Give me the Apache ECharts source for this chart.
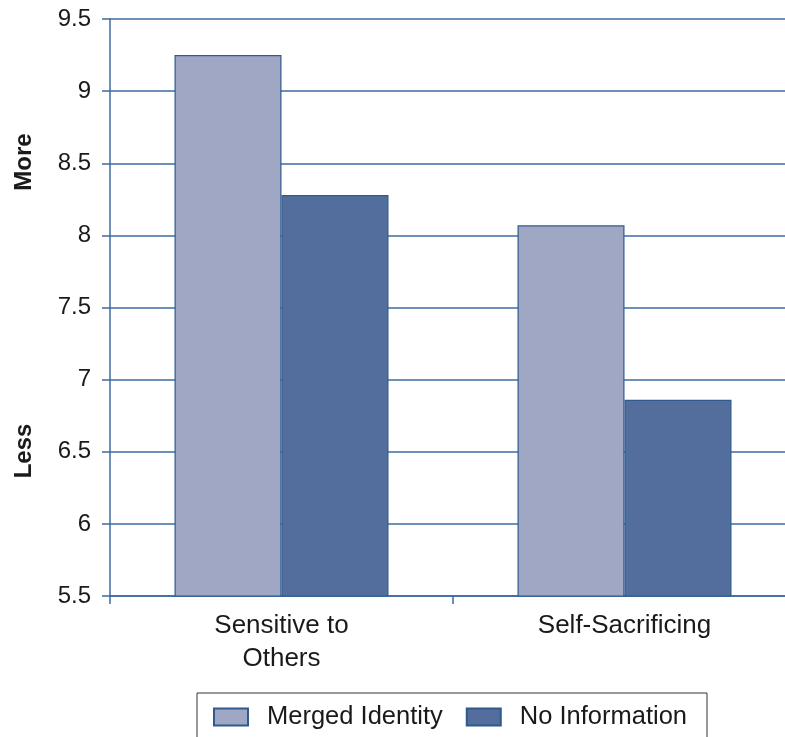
<!DOCTYPE html>
<html>
<head>
<meta charset="utf-8">
<script src="https://cdn.jsdelivr.net/npm/echarts@6/dist/echarts.min.js"></script>
<style>
html,body{margin:0;padding:0;background:#fff;}
#chart{width:785px;height:737px;}
</style>
</head>
<body>
<div id="chart"></div>
<script>
const categories = ['Sensitive to\nOthers', 'Self-Sacrificing'];
const seriesNames = ['Merged Identity', 'No Information'];
const mergedIdentity = [9.25, 8.07];
const noInformation = [8.28, 6.86];
const yTicks = { min: 5.5, max: 9.5, interval: 0.5 };

const FONT = '"Liberation Sans", Arial, Helvetica, sans-serif';
const lineColor = '#3e6a9f';
const chart = echarts.init(document.getElementById('chart'), null, {renderer: 'canvas'});
chart.setOption({
  animation: false,
  backgroundColor: '#fff',
  textStyle: { fontFamily: FONT },
  grid: { left: 110, top: 19, bottom: 141, width: 686, containLabel: false, outerBoundsMode: 'none' },
  legend: {
    left: 197, top: 693,
    icon: 'rect',
    itemWidth: 34, itemHeight: 17, itemGap: 23,
    padding: [11, 20, 20, 16],
    borderColor: '#333', borderWidth: 1,
    textStyle: { fontSize: 25.5, color: '#1a1a1a', fontFamily: FONT, padding: [0, 0, 0, 14] },
    data: seriesNames
  },
  xAxis: {
    type: 'category',
    data: categories,
    axisLine: { show: true, lineStyle: { color: lineColor, width: 1.5 } },
    axisTick: { show: true, length: 8, lineStyle: { color: lineColor, width: 1.5 } },
    axisLabel: { fontSize: 26, color: '#1a1a1a', fontFamily: FONT, margin: 13, lineHeight: 33 }
  },
  yAxis: {
    type: 'value',
    min: yTicks.min, max: yTicks.max, interval: yTicks.interval,
    axisLine: { show: true, lineStyle: { color: lineColor, width: 1.5 } },
    axisTick: { show: true, length: 8, lineStyle: { color: lineColor, width: 1.5 } },
    splitLine: { show: true, lineStyle: { color: lineColor, width: 1.5 } },
    axisLabel: { fontSize: 24, color: '#1a1a1a', fontFamily: FONT, margin: 19 }
  },
  series: [
    {
      name: seriesNames[0], type: 'bar', data: mergedIdentity,
      barWidth: 107, barGap: '0%',
      itemStyle: { color: '#a0a7c5', borderColor: '#2f5a8e', borderWidth: 1.2 }
    },
    {
      name: seriesNames[1], type: 'bar', data: noInformation,
      barWidth: 107, barGap: '0%',
      itemStyle: { color: '#536d9c', borderColor: '#2f5a8e', borderWidth: 1.2 }
    }
  ],
  graphic: [
    { type: 'text', x: 24, y: 162, rotation: Math.PI / 2,
      style: { text: 'More', font: 'bold 24px ' + FONT, fill: '#1a1a1a', align: 'center', verticalAlign: 'middle' } },
    { type: 'text', x: 24, y: 451, rotation: Math.PI / 2,
      style: { text: 'Less', font: 'bold 24px ' + FONT, fill: '#1a1a1a', align: 'center', verticalAlign: 'middle' } }
  ]
});
</script>
</body>
</html>
